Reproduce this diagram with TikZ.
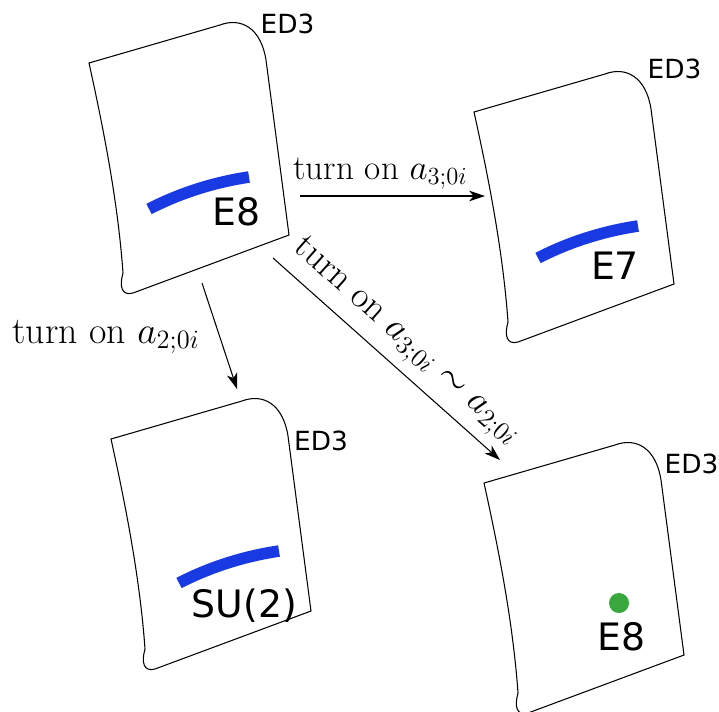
\documentclass[tikz,border=0pt]{standalone}
\usepackage{fix-cm}
\usepackage{fontspec}
\newfontfamily\branefont{DejaVu Sans}
\usetikzlibrary{arrows.meta}
\definecolor{stringblue}{RGB}{25,58,226}
\definecolor{pointgreen}{RGB}{56,168,60}
\tikzset{
  sheet/.style={line width=0.6pt},
  brane/.style={draw=stringblue, line width=6.6pt},
  edlabel/.style={font=\branefont\fontsize{15}{18}\selectfont, anchor=base, inner sep=0pt},
  alglabel/.style={font=\branefont\fontsize{21.5}{25}\selectfont, anchor=base, inner sep=0pt},
  flow/.style={-{Stealth[length=9pt,width=6pt,inset=2.5pt]}, line width=0.6pt},
  turnlabel/.style={font=\fontsize{20}{24}\selectfont, anchor=base, inner sep=0pt}
}
\begin{document}
\begin{tikzpicture}[x=0.02cm, y=-0.02cm]
\useasboundingbox (0,0) rectangle (719,711);
% the four ED3 sheets
\foreach \px/\py in {89/63, 474/112, 111/439, 484/483} {
  \draw[sheet, shift={(\px,\py)}] (0,0) -- (131,-38)
    .. controls (152,-46) and (172,-35) .. (177,-3)
    -- (200,172) -- (44,230)
    .. controls (33,233) and (30,224) .. (34,210)
    .. controls (29,140) and (15,68) .. (0,0) -- cycle;
}
% 7-brane strings
\foreach \sx/\sy in {149/209, 538/258, 179/583} {
  \draw[brane, shift={(\sx,\sy)}] (0,0) .. controls (33,-17) and (67,-27) .. (100,-32);
}
\node[circle, fill=pointgreen, minimum size=4mm, inner sep=0pt] (e8-point) at (619,603) {};

% labels on the sheets
\node[edlabel] (ed-a) at (287.5,33) {ED3};
\node[edlabel] (ed-b) at (674.5,78) {ED3};
\node[edlabel] (ed-c) at (321,450) {ED3};
\node[edlabel] (ed-d) at (691.5,473) {ED3};
\node[alglabel] (alg-a) at (236.5,225) {E8};
\node[alglabel] (alg-b) at (615,279) {E7};
\node[alglabel] (alg-c) at (244.5,617) {SU(2)};
\node[alglabel] (alg-d) at (621.5,650) {E8};

% deformations
\coordinate (a-right) at (300,196);
\coordinate (b-left) at (485,196);
\coordinate (a-bottom) at (202,283);
\coordinate (c-top) at (237,389);
\coordinate (a-corner) at (273,258);
\coordinate (d-top) at (500,460);
\draw[flow] (a-right) -- (b-left);
\draw[flow] (a-bottom) -- (c-top);
\draw[flow] (a-corner) -- (d-top);
\node[turnlabel] (turn-b) at (380.5,179) {turn on $a_{3;0i}$};
\node[turnlabel, font=\fontsize{21.5}{25}\selectfont] (turn-c) at (106,343) {turn on $a_{2;0i}$};
\node[turnlabel, font=\fontsize{21}{25}\selectfont, rotate=-41.6] (turn-d) at (402,347) {turn on $a_{3;0i}\sim a_{2;0i}$};
\end{tikzpicture}
\end{document}
